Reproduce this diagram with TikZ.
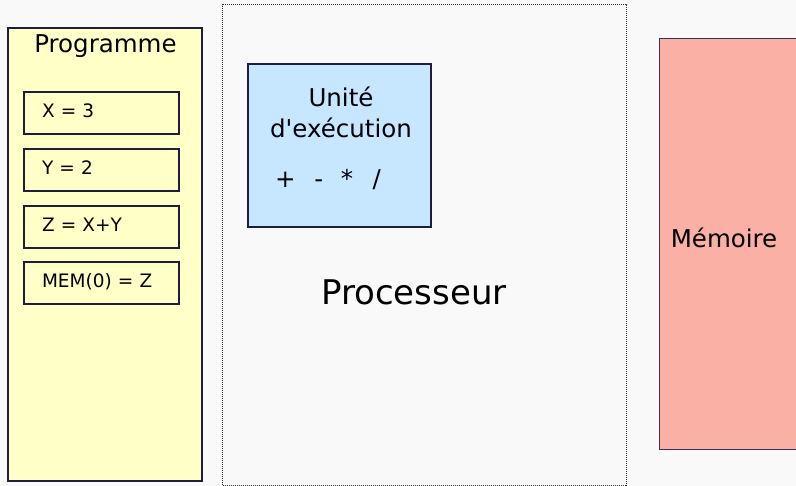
\documentclass[tikz,border=0pt]{standalone}
\usepackage{fontspec}
\setmainfont{DejaVu Sans}[Ligatures=TeXOff]
\definecolor{bgc}{HTML}{F9F9F9}
\definecolor{progfill}{HTML}{FFFFC8}
\definecolor{unitfill}{HTML}{C6E7FF}
\definecolor{memfill}{HTML}{FBB0A6}
\definecolor{edge}{HTML}{1E1E3C}
\definecolor{memedge}{HTML}{3A3050}
\definecolor{dotc}{HTML}{333333}
\begin{document}
\begin{tikzpicture}[x=1pt,y=-1pt,
  frame/.style={draw=edge,line width=1.8pt,rectangle,inner sep=0pt,anchor=north west},
  instr/.style={frame,fill=progfill,line width=2pt,minimum width=155pt,minimum height=42pt,
    text width=119pt,inner xsep=18pt,align=left,text height=13.5pt,text depth=4pt,
    font=\fontsize{18.5}{22}\selectfont},
  lbl/.style={inner sep=0pt,font=\fontsize{24.5}{29}\selectfont}]
\useasboundingbox (0,0) rectangle (796,486);
\clip (0,0) rectangle (796,486);
\fill[bgc] (0,0) rectangle (796,486);
% Processor
\node[draw=dotc,line width=1.4pt,dash pattern=on 1pt off 1pt,rectangle,inner sep=0pt,anchor=north west,
  minimum width=404pt,minimum height=481pt] (proc) at (222,4) {};
\node[inner sep=0pt,anchor=base,font=\fontsize{34}{40}\selectfont] (proclbl) at (414,305) {Processeur};
% Programme
\node[frame,fill=progfill,minimum width=194pt,minimum height=453pt] (prog) at (7,27) {};
\node[lbl,anchor=base] (proglbl) at (105.5,53) {Programme};
\node[instr] (i1) at (23,91) {X = 3};
\node[instr] (i2) at (23,148) {Y = 2};
\node[instr] (i3) at (23,205) {Z = X+Y};
\node[instr] (i4) at (23,261) {MEM(0) = Z};
% Execution unit
\node[frame,fill=unitfill,line width=2pt,minimum width=183pt,minimum height=163pt] (unit) at (247,63) {};
\node[lbl,anchor=base] (unitA) at (341,107) {Unité};
\node[lbl,anchor=base] (unitB) at (341,138) {d'exécution};
\node[lbl,anchor=base west] (ops) at (275,188) {+\hspace{18.6pt}-\hspace{17.7pt}*\hspace{19.5pt}/};
% Memory
\node[draw=memedge,line width=1.3pt,fill=memfill,rectangle,inner sep=0pt,anchor=north west,
  minimum width=200pt,minimum height=411pt] (mem) at (659,38) {};
\node[lbl,anchor=base west] (memlbl) at (670.6,248) {Mémoire};
\end{tikzpicture}
\end{document}
